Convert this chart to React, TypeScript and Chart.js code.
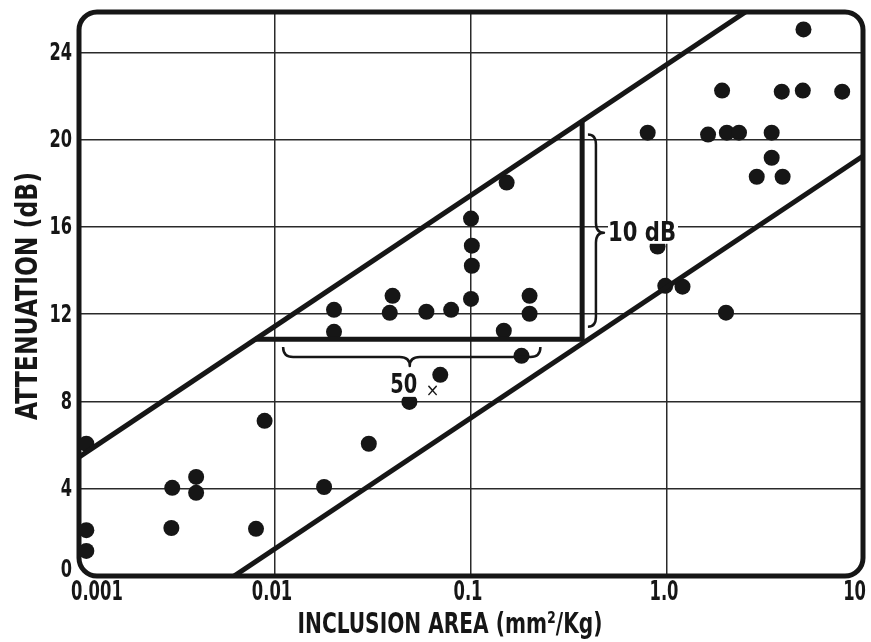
import React, { useEffect, useRef } from 'react';
import { Chart, registerables } from 'chart.js';

Chart.register(...registerables);

// ---- axis ticks ----
const xTickValues = [0.001, 0.01, 0.1, 1, 10];
const xTickLabels = ['0.001', '0.01', '0.1', '1.0', '10'];
const yTickValues = [0, 4, 8, 12, 16, 20, 24];
const yTickLabels = ['0', '4', '8', '12', '16', '20', '24'];

// ---- measured points ----
const inclusionArea = [
  0.00109, 0.00109, 0.00109, 0.00299, 0.00396, 0.00396, 0.00296, 0.0080, 0.00885,
  0.0178, 0.0301, 0.0485, 0.0697, 0.181,
  0.020, 0.020, 0.0398, 0.0385, 0.0592, 0.0792, 0.100, 0.101, 0.101, 0.100, 0.152, 0.147, 0.199, 0.199,
  0.797, 1.62, 2.02, 2.33, 3.42, 3.42, 2.87, 3.89, 1.91, 3.85, 4.93, 7.83, 4.97,
  0.98, 1.2, 2.0, 0.895,
];
const attenuation = [
  6.06, 2.1, 1.15, 4.04, 4.54, 3.81, 2.2, 2.16, 7.11,
  4.08, 6.06, 7.98, 9.22, 10.09,
  12.2, 11.19, 12.84, 12.06, 12.11, 12.2, 12.7, 14.22, 15.14, 16.38, 18.03, 11.24, 12.84, 12.02,
  20.32, 20.23, 20.32, 20.32, 20.32, 19.17, 18.3, 18.3, 22.25, 22.2, 22.25, 22.2, 25.05,
  13.3, 13.26, 12.07, 15.1,
];

// ---- band limit lines (6 dB per decade) ----
const upperLimitX = [0.001, 10];
const upperLimitY = [5.45, 29.45];
const lowerLimitX = [0.001, 10];
const lowerLimitY = [-4.75, 19.25];

// ---- annotation triangle ----
const triangleX = [0.0079, 0.369, 0.369];
const triangleY = [10.85, 10.85, 20.85];

// ---- annotation braces and labels (data units) ----
const spanBraceX = [0.011, 0.226];
const spanBraceY = 10.5;
const spanLabel = '50';
const spanLabelAt = [0.0448, 8.76];
const gainBraceX = 0.395;
const gainBraceY = [11.42, 20.23];
const gainLabel = '10 dB';
const gainLabelAt = [0.5, 15.73];

const xTitle = 'INCLUSION AREA (mm\u00B2/Kg)';
const yTitle = 'ATTENUATION (dB)';

const FONT = "'Liberation Sans Narrow', 'DejaVu Sans Condensed', 'Arial Narrow', sans-serif";
const INK = '#161616';

function zipXY(xs: number[], ys: number[]) {
  return xs.map((x, i) => ({ x, y: ys[i] }));
}

function drawFitted(ctx: CanvasRenderingContext2D, text: string, cx: number, cy: number, width: number, font: string, rotate = false) {
  ctx.save();
  ctx.font = font;
  const w = ctx.measureText(text).width;
  ctx.translate(cx, cy);
  if (rotate) ctx.rotate(-Math.PI / 2);
  ctx.scale(width / w, 1);
  ctx.textAlign = 'center';
  ctx.textBaseline = 'middle';
  ctx.fillStyle = INK;
  ctx.fillText(text, 0, 0);
  ctx.restore();
}

function drawScaled(ctx: CanvasRenderingContext2D, text: string, x: number, y: number, sx: number, font: string, align: CanvasTextAlign) {
  ctx.save();
  ctx.font = font;
  ctx.translate(x, y);
  ctx.scale(sx, 1);
  ctx.textAlign = align;
  ctx.textBaseline = 'middle';
  ctx.fillStyle = INK;
  ctx.fillText(text, 0, 0);
  ctx.restore();
}

const decorPlugin = {
  id: 'decor',
  afterDraw(chart: any) {
    const { ctx, chartArea: ca, scales } = chart;
    const xs = scales.x;
    const ys = scales.y;
    ctx.save();
    ctx.strokeStyle = INK;
    ctx.fillStyle = INK;
    ctx.lineWidth = 2.5;
    ctx.lineJoin = 'round';

    // horizontal brace (tips up, point down)
    {
      const x1 = xs.getPixelForValue(spanBraceX[0]);
      const x2 = xs.getPixelForValue(spanBraceX[1]);
      const y = ys.getPixelForValue(spanBraceY);
      const xm = (x1 + x2) / 2 - 2;
      const h = 10;
      const r = 10;
      ctx.beginPath();
      ctx.moveTo(x1, y);
      ctx.quadraticCurveTo(x1, y + h, x1 + r, y + h);
      ctx.lineTo(xm - r, y + h);
      ctx.quadraticCurveTo(xm, y + h, xm, y + 2 * h - 1);
      ctx.quadraticCurveTo(xm, y + h, xm + r, y + h);
      ctx.lineTo(x2 - r, y + h);
      ctx.quadraticCurveTo(x2, y + h, x2, y);
      ctx.stroke();
    }
    // vertical brace (tips left, point right)
    {
      const x = xs.getPixelForValue(gainBraceX);
      const y1 = ys.getPixelForValue(gainBraceY[1]);
      const y2 = ys.getPixelForValue(gainBraceY[0]);
      const ym = (y1 + y2) / 2 + 2;
      const w = 8;
      const r = 10;
      ctx.beginPath();
      ctx.moveTo(x, y1);
      ctx.quadraticCurveTo(x + w, y1, x + w, y1 + r);
      ctx.lineTo(x + w, ym - r);
      ctx.quadraticCurveTo(x + w, ym, x + 2 * w, ym);
      ctx.quadraticCurveTo(x + w, ym, x + w, ym + r);
      ctx.lineTo(x + w, y2 - r);
      ctx.quadraticCurveTo(x + w, y2, x, y2);
      ctx.stroke();
    }

    // "50 x" label
    {
      const cx = xs.getPixelForValue(spanLabelAt[0]);
      const cy = ys.getPixelForValue(spanLabelAt[1]);
      ctx.fillStyle = '#fff';
      ctx.fillRect(cx - 15, cy - 12, 30, 24);
      drawFitted(ctx, spanLabel, cx + 1, cy + 1, 27, `bold 26px ${FONT}`);
      ctx.fillStyle = INK;
      ctx.font = `18px ${FONT}`;
      ctx.textAlign = 'center';
      ctx.textBaseline = 'middle';
      ctx.fillText('\u00D7', cx + 30, cy + 6);
    }
    // "10 dB" label
    {
      const lx = xs.getPixelForValue(gainLabelAt[0]);
      const cy = ys.getPixelForValue(gainLabelAt[1]);
      ctx.fillStyle = '#fff';
      ctx.fillRect(lx, cy - 11, 70, 22);
      drawFitted(ctx, gainLabel, lx + 34, cy + 1, 68, `bold 26px ${FONT}`);
    }

    // rounded frame
    ctx.strokeStyle = INK;
    ctx.lineWidth = 5;
    ctx.beginPath();
    (ctx as any).roundRect(ca.left, ca.top, ca.right - ca.left, ca.bottom - ca.top, 18);
    ctx.stroke();

    // tick labels, placed through the scales
    const tickFont = `bold 26px ${FONT}`;
    xTickValues.forEach((v, i) => {
      const px = xs.getPixelForValue(v);
      const last = i === xTickValues.length - 1;
      const align: CanvasTextAlign = i === 0 ? 'left' : last ? 'right' : 'center';
      const dx = i === 0 ? -8 : last ? 3 : -3;
      drawScaled(ctx, xTickLabels[i], px + dx, ca.bottom + 17, 0.7, tickFont, align);
    });
    yTickValues.forEach((v, i) => {
      const py = ys.getPixelForValue(v);
      const dy = i === 0 ? -6 : 1;
      drawScaled(ctx, yTickLabels[i], ca.left - 7, py + dy, 0.72, `bold 25px ${FONT}`, 'right');
    });

    // axis titles
    drawFitted(ctx, yTitle, 29, (ca.top + ca.bottom) / 2 + 2, 248, `bold 30px ${FONT}`, true);
    drawFitted(ctx, xTitle, 450, 625, 305, `bold 29px ${FONT}`);
    ctx.restore();
  },
};

export default function App() {
  const canvasRef = useRef<HTMLCanvasElement | null>(null);

  useEffect(() => {
    const canvas = canvasRef.current;
    if (!canvas) return;
    const lineDs = (xs: number[], ys: number[]) => ({
      type: 'line' as const,
      data: zipXY(xs, ys),
      showLine: true,
      borderColor: INK,
      borderWidth: 5,
      pointRadius: 0,
      fill: false,
      tension: 0,
      borderJoinStyle: 'miter' as const,
    });
    const chart = new Chart(canvas, {
      type: 'scatter',
      data: {
        datasets: [
          lineDs(upperLimitX, upperLimitY),
          lineDs(lowerLimitX, lowerLimitY),
          lineDs(triangleX, triangleY),
          {
            type: 'scatter',
            data: zipXY(inclusionArea, attenuation),
            backgroundColor: INK,
            borderWidth: 0,
            pointRadius: 8,
            pointHoverRadius: 8,
          } as any,
        ],
      },
      options: {
        responsive: false,
        animation: false,
        events: [],
        layout: { padding: { left: 0, right: 2, top: 12, bottom: 0 } },
        plugins: { legend: { display: false }, tooltip: { enabled: false } },
        scales: {
          x: {
            type: 'logarithmic',
            min: 0.001,
            max: 10,
            afterBuildTicks: (scale: any) => {
              scale.ticks = xTickValues.map((v) => ({ value: v }));
            },
            afterFit: (scale: any) => {
              scale.height = 66;
            },
            border: { display: false },
            grid: {
              drawTicks: false,
              lineWidth: 1.5,
              color: (c: any) => (c.index === 0 || c.index === xTickValues.length - 1 ? 'rgba(0,0,0,0)' : '#2a2a2a'),
            },
            ticks: { display: false, autoSkip: false },
          },
          y: {
            type: 'linear',
            min: 0,
            max: 25.85,
            afterBuildTicks: (scale: any) => {
              scale.ticks = yTickValues.map((v) => ({ value: v }));
            },
            afterFit: (scale: any) => {
              scale.width = 79;
            },
            border: { display: false },
            grid: {
              drawTicks: false,
              lineWidth: 1.5,
              color: (c: any) => (c.index === 0 ? 'rgba(0,0,0,0)' : '#2a2a2a'),
            },
            ticks: { display: false, autoSkip: false },
          },
        },
      } as any,
      plugins: [decorPlugin],
    });
    return () => chart.destroy();
  }, []);

  return (
    <div style={{ position: 'absolute', left: 0, top: 0, width: 871, height: 642, background: '#fff' }}>
      <canvas ref={canvasRef} width={871} height={642} />
    </div>
  );
}
